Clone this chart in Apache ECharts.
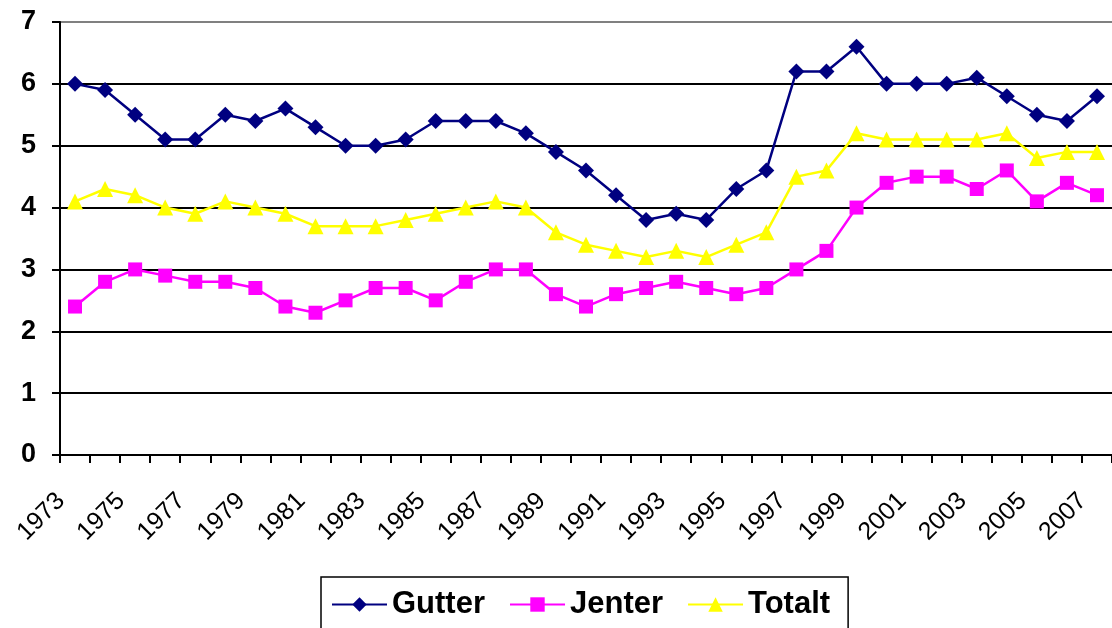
<!DOCTYPE html>
<html>
<head>
<meta charset="utf-8">
<script src="https://cdn.jsdelivr.net/npm/echarts@6/dist/echarts.min.js"></script>
<style>
  html, body { margin: 0; padding: 0; background: #fff; }
  #chart { width: 1112px; height: 628px; }
</style>
</head>
<body>
<div id="chart"></div>
<script>
const years = []
for (let y = 1973; y <= 2007; y++) years.push(String(y))

const gutter = [6.0, 5.9, 5.5, 5.1, 5.1, 5.5, 5.4, 5.6, 5.3, 5.0, 5.0, 5.1, 5.4, 5.4, 5.4, 5.2, 4.9, 4.6, 4.2, 3.8,
  3.9, 3.8, 4.3, 4.6, 6.2, 6.2, 6.6, 6.0, 6.0, 6.0, 6.1, 5.8, 5.5, 5.4, 5.8]
const jenter = [2.4, 2.8, 3.0, 2.9, 2.8, 2.8, 2.7, 2.4, 2.3, 2.5, 2.7, 2.7, 2.5, 2.8, 3.0, 3.0, 2.6, 2.4, 2.6, 2.7,
  2.8, 2.7, 2.6, 2.7, 3.0, 3.3, 4.0, 4.4, 4.5, 4.5, 4.3, 4.6, 4.1, 4.4, 4.2]
const totalt = [4.1, 4.3, 4.2, 4.0, 3.9, 4.1, 4.0, 3.9, 3.7, 3.7, 3.7, 3.8, 3.9, 4.0, 4.1, 4.0, 3.6, 3.4, 3.3, 3.2,
  3.3, 3.2, 3.4, 3.6, 4.5, 4.6, 5.2, 5.1, 5.1, 5.1, 5.1, 5.2, 4.8, 4.9, 4.9]

const chart = echarts.init(document.getElementById('chart'))

function lineSeries(name, data, color, symbol, size) {
  return {
    name: name,
    type: 'line',
    data: data,
    symbol: symbol,
    symbolSize: size,
    showAllSymbol: true,
    animation: false,
    itemStyle: { color: color },
    lineStyle: { color: color, width: 2.5 },
  }
}

chart.setOption({
  backgroundColor: '#fff',
  textStyle: { fontFamily: 'Liberation Sans, Arial, sans-serif' },
  grid: { left: 60, right: -4, top: 22, bottom: 173, containLabel: false },
  legend: {
    left: 321,
    top: 577,
    padding: [12, 18, 30, 10],
    borderColor: '#000',
    borderWidth: 1.5,
    itemGap: 24,
    itemWidth: 55,
    itemHeight: 18,
    textStyle: { fontSize: 31, fontWeight: 'bold', color: '#000' },
    data: ['Gutter', 'Jenter', 'Totalt'],
  },
  xAxis: {
    type: 'category',
    data: years,
    boundaryGap: true,
    axisLine: { lineStyle: { color: '#000', width: 2 } },
    axisTick: { show: true, interval: 0, length: 8, lineStyle: { color: '#000', width: 2 } },
    axisLabel: { interval: 1, rotate: 45, fontSize: 25, color: '#000', margin: 28, padding: [0, 20, 0, 0] },
  },
  yAxis: {
    type: 'value',
    min: 0,
    max: 7,
    interval: 1,
    axisLine: { show: true, lineStyle: { color: '#000', width: 2 } },
    axisTick: { show: true, length: 8, lineStyle: { color: '#000', width: 2 } },
    axisLabel: { fontSize: 27, fontWeight: 'bold', color: '#000', margin: 24 },
    splitLine: {
      lineStyle: {
        color: ['#000', '#000', '#000', '#000', '#000', '#000', '#000', '#808080'],
        width: 2,
      },
    },
  },
  series: [
    lineSeries('Gutter', gutter, '#000080', 'diamond', 16),
    lineSeries('Jenter', jenter, '#ff00ff', 'rect', 14),
    lineSeries('Totalt', totalt, '#ffff00', 'triangle', 16),
  ],
})
</script>
</body>
</html>
